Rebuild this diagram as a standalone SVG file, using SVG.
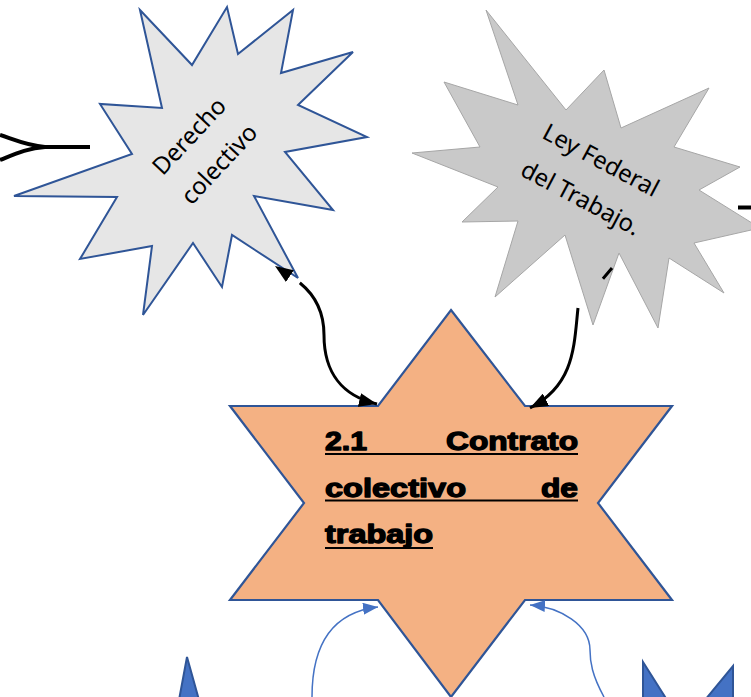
<svg xmlns="http://www.w3.org/2000/svg" width="751" height="697" viewBox="0 0 751 697">
<defs>
<style>
.star-light{fill:#e6e6e6;stroke:#2f5597;stroke-width:2}
.star-gray{fill:#c9c9c9;stroke:#a6a6a6;stroke-width:1}
.star-main{fill:#f4b183;stroke:#2f5597;stroke-width:2.2}
.blue-shape{fill:#4472c4;stroke:#2f5597;stroke-width:2}
.lbl{font-family:"Noto Sans","Open Sans","DejaVu Sans",sans-serif;font-size:24px;fill:#000;text-anchor:middle}
.main-lbl{font-family:"Liberation Sans",Arial,sans-serif;font-weight:bold;font-size:25.5px;fill:#000;stroke:#000;stroke-width:1.3;stroke-linejoin:round}
.ul{stroke:#000;stroke-width:2}
.conn-black{fill:none;stroke:#000;stroke-width:3}
.conn-thick{fill:none;stroke:#000;stroke-width:4}
.conn-blue{fill:none;stroke:#4472c4;stroke-width:1.5}
</style>
<marker id="arrowBlack" markerUnits="userSpaceOnUse" viewBox="0 0 18 14" markerWidth="18" markerHeight="14" refX="18" refY="7" orient="auto-start-reverse"><path d="M0,0 L18,7 L0,14 z" fill="#000"/></marker>
<marker id="arrowBlue" markerUnits="userSpaceOnUse" viewBox="0 0 15 12" markerWidth="15" markerHeight="12" refX="15" refY="6" orient="auto"><path d="M0,0 L15,6 L0,12 z" fill="#4472c4"/></marker>
</defs>

<g id="node-derecho">
<polygon class="star-light" points="140,10 192,65 227,7 238,54 293,10 281,73 353,52 298,105 367,137 285,152 333,210 254,196 298,278 232,235 222,287 193,243 143,315 152,246 80,259 117,197 14,196 132,154 100,104 162,108"/>
<g transform="translate(204,150) rotate(-47)">
<text class="lbl" x="0" y="-12">Derecho</text>
<text class="lbl" x="0" y="29">colectivo</text>
</g>
</g>

<g id="node-ley">
<polygon class="star-gray" points="486,10 566,110 604,70 621,128 709,88 674,147 740,167 699,190 760,228 694,243 724,293 669,258 658,328 619,253 593,325 565,235 495,297 518,221 462,222 498,187 412,153 480,147 444,82 518,105"/>
<g transform="translate(591,179) rotate(28)">
<text class="lbl" x="0" y="-13">Ley Federal</text>
<text class="lbl" x="0" y="30">del Trabajo.</text>
</g>
</g>

<g id="node-contrato">
<polygon class="star-main" points="451,310 525,406 672,406 598,503 672,600 525,600 451,697 378,600 230,600 304,503 230,406 378,406"/>
<text class="main-lbl"><tspan x="325" y="450" textLength="42" lengthAdjust="spacingAndGlyphs">2.1</tspan><tspan x="446" y="450" textLength="132" lengthAdjust="spacingAndGlyphs">Contrato</tspan></text>
<text class="main-lbl"><tspan x="325" y="496.5" textLength="141" lengthAdjust="spacingAndGlyphs">colectivo</tspan><tspan x="541" y="496.5" textLength="37" lengthAdjust="spacingAndGlyphs">de</tspan></text>
<text class="main-lbl"><tspan x="325" y="543" textLength="108" lengthAdjust="spacingAndGlyphs">trabajo</tspan></text>
<line class="ul" x1="325" y1="454" x2="578" y2="454"/>
<line class="ul" x1="325" y1="500.5" x2="578" y2="500.5"/>
<line class="ul" x1="325" y1="548" x2="433" y2="548"/>
</g>

<g id="node-bottom-left">
<polygon class="blue-shape" points="187,657 199,700 179,700"/>
</g>

<g id="node-bottom-right">
<polygon class="blue-shape" points="643,662 667,700 643,700"/>
<polygon class="blue-shape" points="733,666 733,700 705,700"/>
</g>

<g id="connectors">
<path class="conn-black" d="M275,266 L300,283 C316,296 324,312 324,335 C324,372 342,396 377,404" stroke-dasharray="0 30 1000" marker-start="url(#arrowBlack)" marker-end="url(#arrowBlack)"/>
<path class="conn-black" d="M612,268 L578,308 C574,345 575,385 530,408" stroke-dasharray="14 38.5 1000" marker-end="url(#arrowBlack)"/>
<path class="conn-blue" d="M312,697 C312,640 335,612 378,607" marker-end="url(#arrowBlue)"/>
<path class="conn-blue" d="M604,697 C592,675 590,662 590,650 C590,625 560,607 530,605" marker-end="url(#arrowBlue)"/>
<path class="conn-thick" d="M0,135 C15,140 28,146 45,147 L90,147"/>
<path class="conn-thick" d="M0,160 C15,154 28,148 45,147"/>
<path class="conn-thick" d="M738,207.5 L751,207.5"/>
</g>
</svg>
